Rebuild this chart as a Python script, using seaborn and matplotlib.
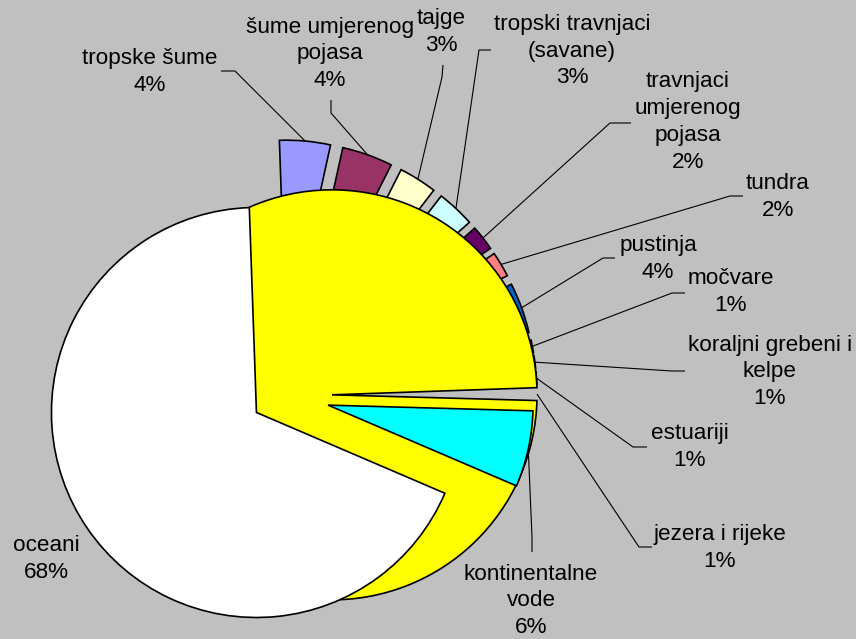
import matplotlib
matplotlib.use("Agg")
import matplotlib.pyplot as plt
import seaborn as sns
import numpy as np

# ---- data ----
categories = ["tropske šume", "šume umjerenog\npojasa", "tajge",
              "tropski travnjaci\n(savane)", "travnjaci\numjerenog\npojasa",
              "tundra", "pustinja", "močvare", "koraljni grebeni i\nkelpe",
              "estuariji", "jezera i rijeke", "kontinentalne\nvode", "oceani"]
shares = [4, 4, 3, 3, 2, 2, 4, 1, 1, 1, 1, 6, 68]

# ---- style ----
colors = ["#9999FF", "#993366", "#FFFFCC", "#CCFFFF", "#660066", "#FF8080",
          "#0066CC", "#CCCCFF", "#000080", "#FF00FF", "#FFFF00", "#00FFFF",
          "#FFFFFF"]
# explode as a fraction of the radius
explode_frac = [0.244] * 10 + [0.244, 0.23, 0.151]

W, H = 856, 639
BG = "#C0C0C0"
R = 205
CENTER = (282, H - 395)
START = 92

# label block centres (pixel coords, y from top)
label_pos = [(150, 72), (330, 54), (441, 32), (572, 51), (688, 122),
             (778, 197), (658, 259), (731, 292), (770, 372), (690, 447),
             (720, 548), (531, 601), (46, 559)]
# leader: label-side end and elbow (pixel coords)
leader_end = [(221, 71), (331, 100), (443, 65), (491, 50), (631, 123),
              (743, 196), (615, 258), (685, 293), (685, 371), (647, 447),
              (652, 547), (532, 552), None]
leader_elbow = [(235, 71), (331, 113), (442, 77), (479, 50), (610, 123),
                (730, 196), (603, 258), (672, 293), (672, 371), (633, 447),
                (639, 547), (532, 537), None]

sns.set_style("white")
plt.rcParams['font.family'] = ['Liberation Sans', 'DejaVu Sans']

fig = plt.figure(figsize=(W / 100, H / 100), dpi=100, facecolor=BG)
ax = fig.add_axes([0, 0, 1, 1])
ax.set_facecolor(BG)

wedgeprops = dict(edgecolor="black", linewidth=1.2)

# matplotlib versions differ on whether explode is scaled by the radius
wedges, _ = ax.pie(shares, explode=explode_frac, colors=colors, startangle=START,
                   counterclock=False, radius=R, center=CENTER,
                   wedgeprops=wedgeprops)
off = np.hypot(wedges[0].center[0] - CENTER[0], wedges[0].center[1] - CENTER[1])
if off < 5:
    for w in wedges:
        w.remove()
    wedges, _ = ax.pie(shares, explode=[e * R for e in explode_frac], colors=colors,
                       startangle=START, counterclock=False, radius=R,
                       center=CENTER, wedgeprops=wedgeprops)

# leader target points on slice arcs
targets = []
for w in wedges:
    m = np.deg2rad(0.5 * (w.theta1 + w.theta2))
    targets.append((w.center[0] + w.r * np.cos(m), w.center[1] + w.r * np.sin(m)))

# lakes & rivers slice rendered as its complement (as in the original chart)
wj = wedges[10]
t1, t2 = wj.theta1, wj.theta2
wj.set_theta1(t2)
wj.set_theta2(t1 + 360)

for i, (cat, s) in enumerate(zip(categories, shares)):
    lx, ly = label_pos[i]
    ax.text(lx, H - ly, f"{cat}\n{s}%", ha="center", va="center",
            fontsize=16.2, color="black", linespacing=1.37, zorder=6)
    if leader_end[i] is not None:
        ex, ey = leader_end[i]
        bx, by = leader_elbow[i]
        tx, ty = targets[i]
        ax.plot([ex, bx, tx], [H - ey, H - by, ty], color="black", lw=0.8,
                zorder=5, solid_capstyle="butt")

ax.set_xlim(0, W)
ax.set_ylim(0, H)
ax.set_aspect("equal")
ax.set_xticks([])
ax.set_yticks([])
for sp in ax.spines.values():
    sp.set_visible(False)

fig.savefig("out.png", dpi=100, facecolor=BG)
